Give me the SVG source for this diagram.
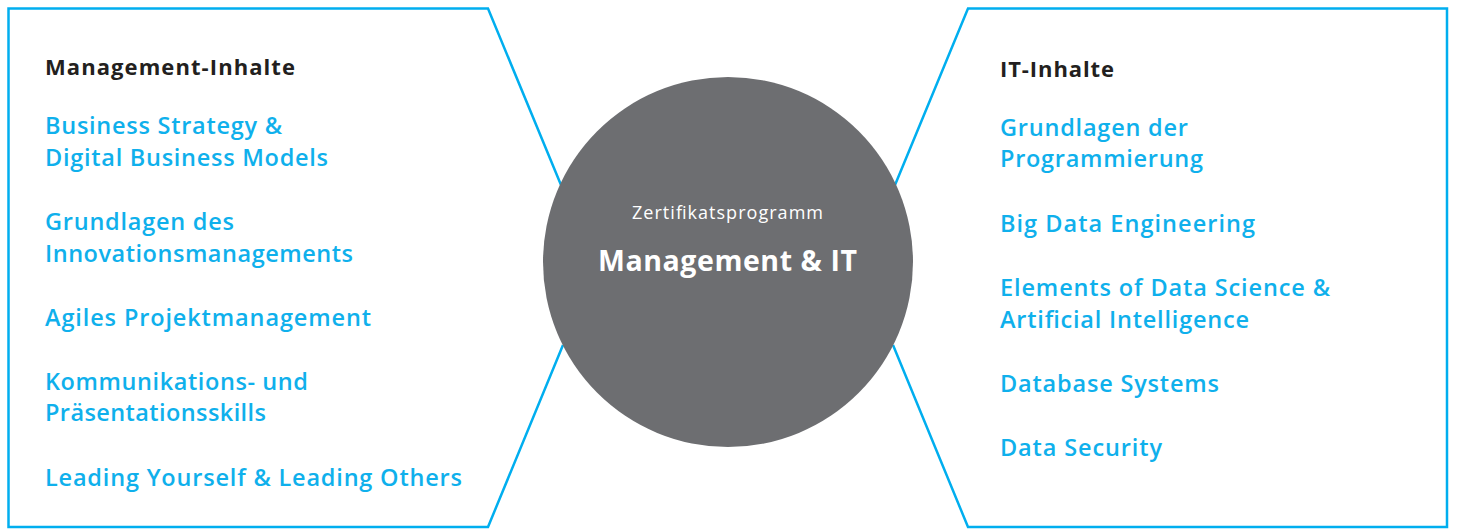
<svg xmlns="http://www.w3.org/2000/svg" width="1457" height="529" viewBox="0 0 1457 529">
<style>
.panel{fill:none;stroke:#00aeef;stroke-width:2.5}
text{font-family:"Open Sans","Liberation Sans",sans-serif}
.head{font-weight:700;font-size:22px;fill:#231f20}
.item{font-weight:600;font-size:23.5px;fill:#0fb0ec}
.sub{font-weight:400;font-size:18px;fill:#ffffff}
.title{font-weight:700;font-size:28.5px;fill:#ffffff}
</style>
<rect width="1457" height="529" fill="#ffffff"/>
<g id="connectors">
<path class="panel" d="M561,185 L488,8.5 L8.5,8.5 L8.5,527 L488,527 L563,345"/>
<path class="panel" d="M895,185 L968,8.5 L1447,8.5 L1447,527 L968,527 L893,345"/>
</g>
<g id="center">
<circle cx="728" cy="262" r="185" fill="#6d6e71"/>
<text class="sub" x="632" y="219" textLength="191" lengthAdjust="spacing">Zertifikatsprogramm</text>
<text class="title" x="598" y="271" textLength="259" lengthAdjust="spacing">Management &amp; IT</text>
</g>
<g id="management">
<text class="head" x="45" y="75" textLength="250" lengthAdjust="spacing">Management-Inhalte</text>
<text class="item" x="45" y="134" textLength="237" lengthAdjust="spacing">Business Strategy &amp;</text>
<text class="item" x="45" y="166" textLength="283" lengthAdjust="spacing">Digital Business Models</text>
<text class="item" x="45" y="230" textLength="189" lengthAdjust="spacing">Grundlagen des</text>
<text class="item" x="45" y="262" textLength="308" lengthAdjust="spacing">Innovationsmanagements</text>
<text class="item" x="45" y="326" textLength="326" lengthAdjust="spacing">Agiles Projektmanagement</text>
<text class="item" x="45" y="390" textLength="263" lengthAdjust="spacing">Kommunikations- und</text>
<text class="item" x="45" y="421" textLength="221" lengthAdjust="spacing">Präsentationsskills</text>
<text class="item" x="45" y="486" textLength="417" lengthAdjust="spacing">Leading Yourself &amp; Leading Others</text>
</g>
<g id="it">
<text class="head" x="1000" y="77" textLength="114" lengthAdjust="spacing">IT-Inhalte</text>
<text class="item" x="1000" y="136" textLength="188" lengthAdjust="spacing">Grundlagen der</text>
<text class="item" x="1000" y="167" textLength="203" lengthAdjust="spacing">Programmierung</text>
<text class="item" x="1000" y="232" textLength="255" lengthAdjust="spacing">Big Data Engineering</text>
<text class="item" x="1000" y="296" textLength="330" lengthAdjust="spacing">Elements of Data Science &amp;</text>
<text class="item" x="1000" y="328" textLength="249" lengthAdjust="spacing">Artificial Intelligence</text>
<text class="item" x="1000" y="392" textLength="219" lengthAdjust="spacing">Database Systems</text>
<text class="item" x="1000" y="456" textLength="162" lengthAdjust="spacing">Data Security</text>
</g>
</svg>
